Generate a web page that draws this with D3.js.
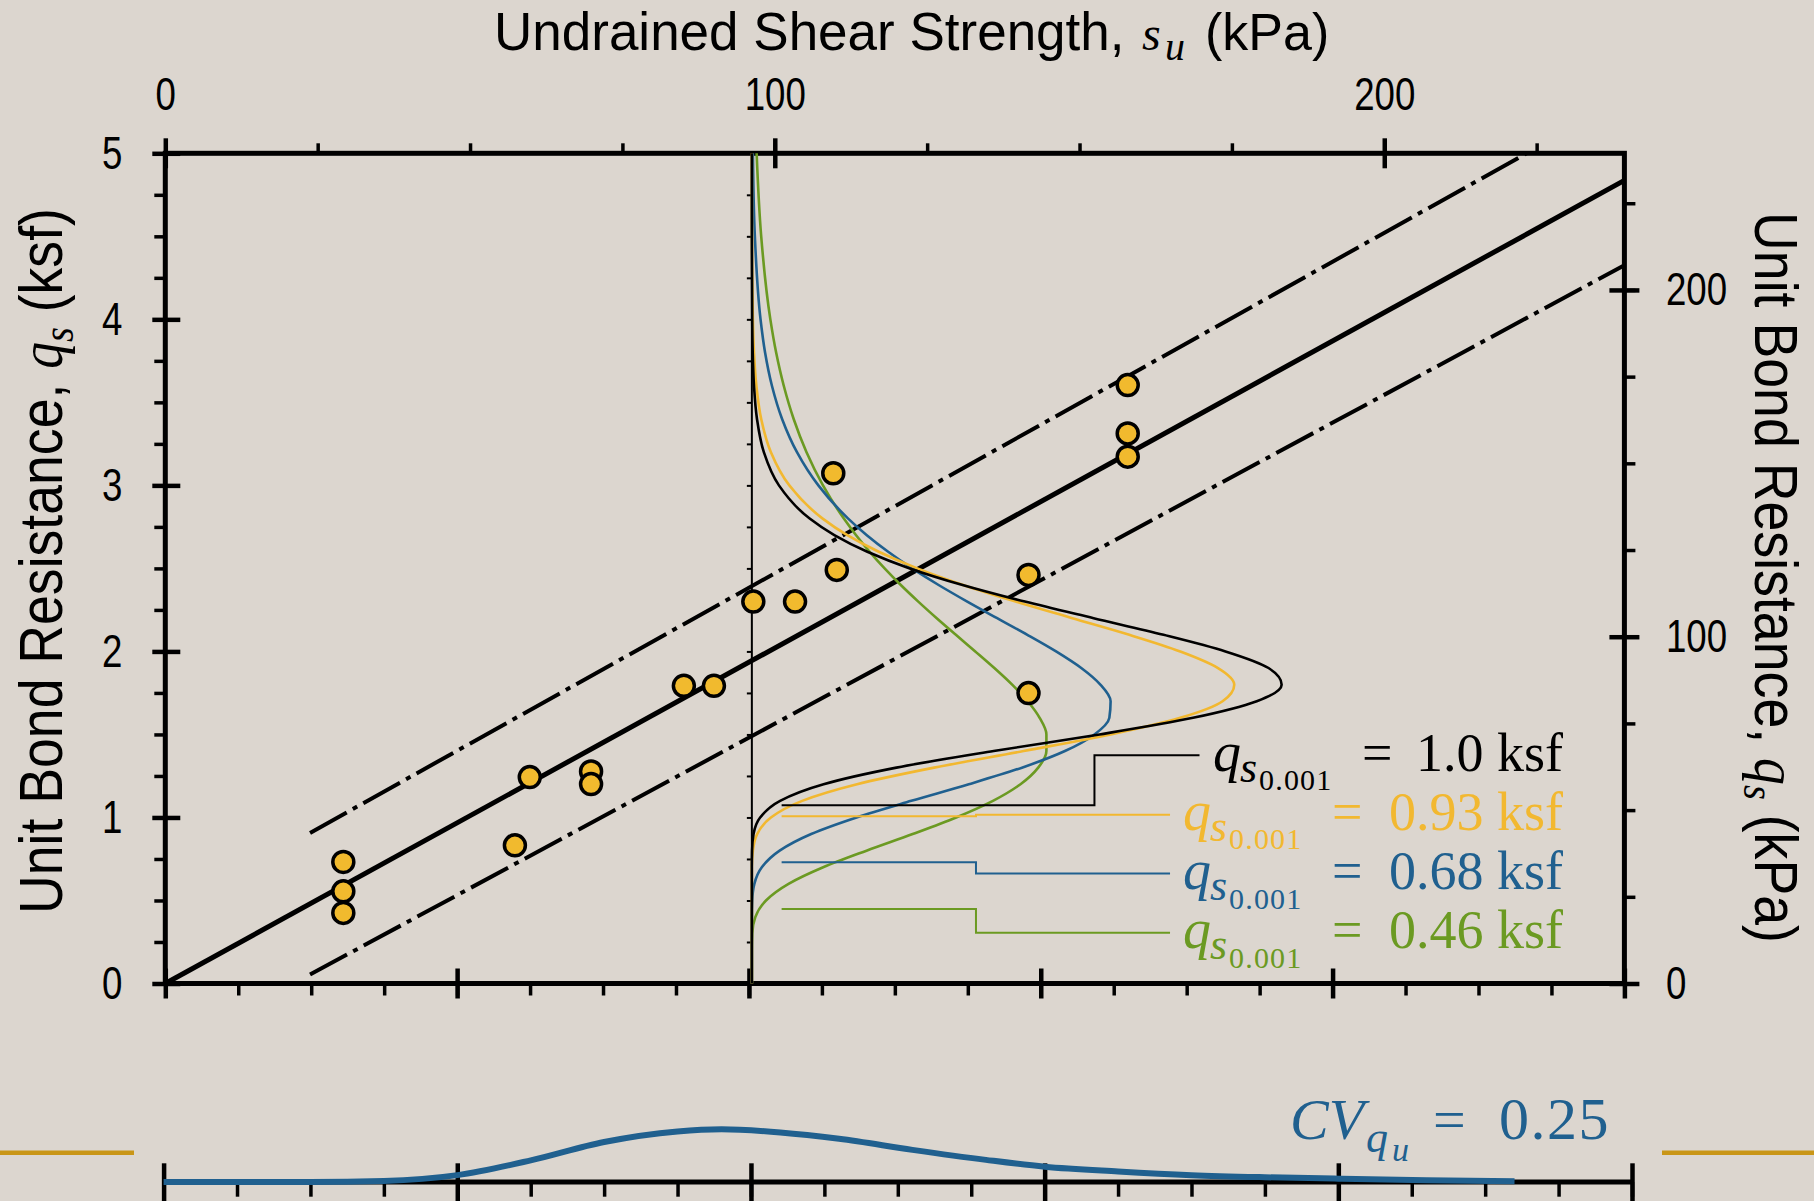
<!DOCTYPE html>
<html>
<head>
<meta charset="utf-8">
<script src="https://cdn.jsdelivr.net/npm/d3@7"></script>
<style>
  html, body { margin: 0; padding: 0; background: #dcd6cf; }
  svg { display: block; }
  text { white-space: pre; }
</style>
</head>
<body>
<div id="chart"></div>
<script>
// ---- data (ksf unless noted) ----
var suPoints = [0.610, 0.610, 0.610, 1.198, 1.249, 1.459, 1.459, 1.777, 1.880, 2.015, 2.158, 2.301, 2.289, 2.958, 2.958, 3.298, 3.298, 3.298];
var qsPoints = [0.732, 0.555, 0.425, 0.832, 1.243, 1.277, 1.201, 1.793, 1.793, 2.300, 2.300, 2.491, 3.073, 2.461, 1.749, 3.604, 3.313, 3.173];

var trendSu = [0, 5],         trendQs = [0, 4.837];
var upperSu = [0.496, 4.665], upperQs = [0.907, 5.0];
var lowerSu = [0.496, 5.0],   lowerQs = [0.054, 4.326];

// probability density of q_s, drawn sideways from s_u = 2 ksf
var qsGrid = [0, 0.2, 0.3, 0.4, 0.5, 0.6, 0.7, 0.8, 0.9, 1.0, 1.1, 1.2, 1.3, 1.4, 1.5, 1.6, 1.7, 1.8, 1.9, 2.0,
              2.1, 2.2, 2.3, 2.4, 2.5, 2.6, 2.7, 2.8, 3.0, 3.2, 3.4, 3.6, 3.8, 4.0, 4.5, 5.0];
var pdfBlack  = [0, 0, 0, 0, 0, 0, 0, 0.0004, 0.0033, 0.0163, 0.0556, 0.1412, 0.2846, 0.4760, 0.6844, 0.8684, 0.9939, 1.0429, 1.0171, 0.9323,
                 0.8104, 0.6728, 0.5374, 0.4148, 0.3109, 0.2273, 0.1623, 0.1138, 0.0533, 0.0236, 0.0101, 0.0042, 0.0017, 0.0007, 0, 0];
var pdfYellow = [0, 0, 0, 0, 0, 0, 0, 0.0020, 0.0104, 0.0375, 0.0991, 0.2070, 0.3587, 0.5349, 0.7063, 0.8433, 0.9266, 0.9496, 0.9176, 0.8434,
                 0.7430, 0.6309, 0.5194, 0.4160, 0.3256, 0.2497, 0.1879, 0.1394, 0.0738, 0.0375, 0.0184, 0.0089, 0.0042, 0.0020, 0.0003, 0];
var pdfBlue   = [0, 0, 0, 0, 0.0007, 0.0049, 0.0196, 0.0547, 0.1168, 0.2061, 0.3139, 0.4270, 0.5317, 0.6163, 0.6744, 0.7037, 0.7062, 0.6860, 0.6484, 0.5988,
                 0.5423, 0.4829, 0.4240, 0.3676, 0.3155, 0.2683, 0.2263, 0.1896, 0.1309, 0.0888, 0.0595, 0.0395, 0.0260, 0.0171, 0.0059, 0.0020];
var pdfGreen  = [0, 0, 0.0007, 0.0068, 0.0278, 0.0722, 0.1404, 0.2257, 0.3165, 0.4022, 0.4746, 0.5288, 0.5637, 0.5798, 0.5798, 0.5665, 0.5430, 0.5124, 0.4773, 0.4398,
                 0.4016, 0.3639, 0.3276, 0.2932, 0.2613, 0.2320, 0.2052, 0.1811, 0.1400, 0.1076, 0.0823, 0.0628, 0.0478, 0.0364, 0.0184, 0.0094];

// lower-tail labels
var tailValues = ["1.0", "0.93", "0.68", "0.46"];
var tailColors = ["#000000", "#f2b830", "#20608f", "#6b9a22"];
// leader lines (s_u, q_s)
var leaders = [
  [[2.112, 1.073], [3.184, 1.073], [3.184, 1.374], [3.544, 1.374]],
  [[2.112, 1.007], [2.778, 1.007], [2.778, 1.017], [3.443, 1.017]],
  [[2.112, 0.730], [2.778, 0.730], [2.778, 0.662], [3.443, 0.662]],
  [[2.112, 0.449], [2.778, 0.449], [2.778, 0.305], [3.443, 0.305]]
];

// s_u distribution, bottom strip (relative density)
var suStrip  = [0, 0.5, 0.75, 1.0, 1.25, 1.5, 1.75, 1.9, 2.1, 2.3, 2.55, 2.8, 3.0, 3.25, 3.5, 3.75, 4.0, 4.3, 4.6];
var pdfStrip = [0, 0, 0.02, 0.13, 0.41, 0.76, 0.96, 1.0, 0.94, 0.82, 0.61, 0.42, 0.29, 0.2, 0.13, 0.09, 0.063, 0.034, 0.013];

var topTicks = [0, 100, 200];      // kPa
var rightTicks = [0, 100, 200];    // kPa
var leftTicks = [0, 1, 2, 3, 4, 5]; // ksf

// ---- setup ----
var W = 1814, H = 1201;
var KPA = 47.88;
var SANS = '"Liberation Sans", Arial, sans-serif';
var SERIF = '"Liberation Serif", "Times New Roman", serif';
var BLUE = "#20608f";

var x = d3.scaleLinear().domain([0, 5]).range([165.3, 1624.4]);
var y = d3.scaleLinear().domain([0, 5]).range([983.5, 153.3]);
var xKpa = d3.scaleLinear().domain([0, 5 * KPA]).range(x.range());
var yKpa = d3.scaleLinear().domain([0, 5 * KPA]).range(y.range());
var pdfBase = 2.01;
var pdfX = d3.scaleLinear().domain([0, 1]).range([x(pdfBase), x(pdfBase) + 508]);
var xb = d3.scaleLinear().domain([0, 5]).range([163.6, 1632]);
var yb = d3.scaleLinear().domain([0, 1]).range([1182, 1129.3]);

var svg = d3.select("#chart").append("svg")
  .attr("width", W).attr("height", H);

svg.append("rect").attr("width", W).attr("height", H).attr("fill", "#dcd6cf");

function narrow(sel, k) {
  sel.each(function() {
    var t = d3.select(this);
    var tx = +t.attr("x") || 0;
    t.attr("transform", "translate(" + tx + ",0) scale(" + k + ",1) translate(" + (-tx) + ",0)");
  });
}

// tick marks only; inner > 0 makes them cross the axis line
function tickMarks(axisFn, scale, values, outer, inner, pos, width) {
  var g = svg.append("g").attr("transform", pos)
    .call(axisFn(scale).tickValues(values).tickSize(outer).tickSizeOuter(0).tickFormat(""));
  g.select(".domain").remove();
  var lines = g.selectAll(".tick line").attr("stroke", "#000").attr("stroke-width", width);
  if (inner) {
    if (axisFn === d3.axisLeft) lines.attr("x1", inner);
    if (axisFn === d3.axisRight) lines.attr("x1", -inner);
    if (axisFn === d3.axisTop) lines.attr("y1", inner);
    if (axisFn === d3.axisBottom) lines.attr("y1", -inner);
  }
  return g;
}

function tickLabels(axisFn, scale, values, pad, pos) {
  var g = svg.append("g").attr("transform", pos)
    .call(axisFn(scale).tickValues(values).tickSize(0).tickPadding(pad).tickFormat(d3.format("d")));
  g.select(".domain").remove();
  g.selectAll("text")
    .attr("font-family", SANS).attr("font-size", 47).attr("fill", "#000")
    .call(narrow, 0.78);
  return g;
}

var minorKsf = d3.range(0, 21).map(function(i) { return i * 0.25; });
var minorKpa = d3.range(0, 10).map(function(i) { return i * 25; });

// ---- main plot axes ----
tickMarks(d3.axisLeft, y, minorKsf, 11, 0, "translate(" + x(0) + ",0)", 3.5);
tickMarks(d3.axisLeft, y, leftTicks, 13, 15, "translate(" + x(0) + ",0)", 4.5);
tickMarks(d3.axisBottom, x, minorKsf, 12, 0, "translate(0," + y(0) + ")", 3.5);
tickMarks(d3.axisBottom, x, leftTicks, 15, 15, "translate(0," + y(0) + ")", 4.5);
tickMarks(d3.axisTop, xKpa, minorKpa, 10, 0, "translate(0," + y(5) + ")", 3.5);
tickMarks(d3.axisTop, xKpa, topTicks, 15, 15, "translate(0," + y(5) + ")", 4.5);
tickMarks(d3.axisRight, yKpa, minorKpa, 11, 0, "translate(" + x(5) + ",0)", 3.5);
tickMarks(d3.axisRight, yKpa, rightTicks, 15, 15, "translate(" + x(5) + ",0)", 4.5);

svg.append("rect")
  .attr("x", x(0)).attr("y", y(5))
  .attr("width", x(5) - x(0)).attr("height", y(0) - y(5))
  .attr("fill", "none").attr("stroke", "#000").attr("stroke-width", 5);

tickLabels(d3.axisLeft, y, leftTicks, 43, "translate(" + x(0) + ",0)");
tickLabels(d3.axisTop, xKpa, topTicks, 43, "translate(0," + y(5) + ")");
tickLabels(d3.axisRight, yKpa, rightTicks, 41.6, "translate(" + x(5) + ",0)");

// inner axis for the q_s densities
svg.append("line")
  .attr("x1", x(pdfBase)).attr("x2", x(pdfBase))
  .attr("y1", y(0)).attr("y2", y(5))
  .attr("stroke", "#000").attr("stroke-width", 2);
tickMarks(d3.axisLeft, y, minorKsf.slice(1, 20), 5, 0, "translate(" + x(pdfBase) + ",0)", 2);

// ---- trend and bounds ----
var line = d3.line().x(function(d) { return x(d[0]); }).y(function(d) { return y(d[1]); });

svg.append("path")
  .attr("d", line(d3.zip(trendSu, trendQs)))
  .attr("fill", "none").attr("stroke", "#000").attr("stroke-width", 5);

[[upperSu, upperQs], [lowerSu, lowerQs]].forEach(function(b) {
  svg.append("path")
    .attr("d", line(d3.zip(b[0], b[1])))
    .attr("fill", "none").attr("stroke", "#000").attr("stroke-width", 4)
    .attr("stroke-dasharray", "42,7,5,7");
});

// ---- density curves ----
var pdfLine = d3.line()
  .x(function(d) { return pdfX(d[1]); })
  .y(function(d) { return y(d[0]); })
  .curve(d3.curveMonotoneY);

[pdfGreen, pdfBlue, pdfYellow, pdfBlack].forEach(function(arr, i) {
  var col = tailColors[3 - i];
  svg.append("path")
    .attr("d", pdfLine(d3.zip(qsGrid, arr)))
    .attr("fill", "none").attr("stroke", col).attr("stroke-width", 2.6);
});

leaders.forEach(function(pts, i) {
  svg.append("path")
    .attr("d", line(pts))
    .attr("fill", "none").attr("stroke", tailColors[i]).attr("stroke-width", 2);
});

// ---- points ----
svg.append("g").selectAll("circle")
  .data(d3.zip(suPoints, qsPoints))
  .join("circle")
  .attr("cx", function(d) { return x(d[0]); })
  .attr("cy", function(d) { return y(d[1]); })
  .attr("r", 10.5)
  .attr("fill", "#f1ba2e").attr("stroke", "#000").attr("stroke-width", 3.5);

// ---- tail labels ----
var qX = [1213, 1183, 1183, 1183];
var eqX = [1362, 1332, 1332, 1332];
var baseY = [770.7, 830, 889.3, 948.3];

tailValues.forEach(function(v, i) {
  var g = svg.append("g").attr("fill", tailColors[i]).attr("font-family", SERIF);
  g.append("text").attr("x", qX[i]).attr("y", baseY[i])
    .attr("font-size", 56).attr("font-style", "italic").text("q");
  g.append("text").attr("x", qX[i] + 27).attr("y", baseY[i] + 11)
    .attr("font-size", 44).attr("font-style", "italic").text("s");
  g.append("text").attr("x", qX[i] + 46).attr("y", baseY[i] + 19.3)
    .attr("font-size", 30).attr("letter-spacing", 1.2).text("0.001");
  g.append("text").attr("x", eqX[i]).attr("y", baseY[i])
    .attr("font-size", 54).text("=");
  g.append("text").attr("x", 1563).attr("y", baseY[i])
    .attr("text-anchor", "end").attr("font-size", 54).text(v + " ksf");
});

// ---- bottom strip: s_u distribution ----
svg.append("line")
  .attr("x1", xb(0)).attr("x2", xb(5)).attr("y1", yb(0)).attr("y2", yb(0))
  .attr("stroke", "#000").attr("stroke-width", 5);
tickMarks(d3.axisBottom, xb, minorKsf, 14.7, 0, "translate(0," + yb(0) + ")", 3.5);
tickMarks(d3.axisBottom, xb, leftTicks, 22, 18.7, "translate(0," + yb(0) + ")", 4.5);

svg.append("path")
  .attr("d", d3.line().x(function(d) { return xb(d[0]); }).y(function(d) { return yb(d[1]); })
    .curve(d3.curveMonotoneX)(d3.zip(suStrip, pdfStrip)))
  .attr("fill", "none").attr("stroke", BLUE).attr("stroke-width", 6);

var gold = "#c99617";
svg.append("line").attr("x1", 0).attr("x2", 134).attr("y1", 1152.7).attr("y2", 1152.7)
  .attr("stroke", gold).attr("stroke-width", 4.5);
svg.append("line").attr("x1", 1662).attr("x2", W).attr("y1", 1152.7).attr("y2", 1152.7)
  .attr("stroke", gold).attr("stroke-width", 4.5);

var cv = svg.append("g").attr("fill", BLUE).attr("font-family", SERIF);
cv.append("text").attr("x", 1290).attr("y", 1139).attr("font-size", 58).attr("font-style", "italic").text("CV");
cv.append("text").attr("x", 1366).attr("y", 1152).attr("font-size", 44).attr("font-style", "italic").text("q");
cv.append("text").attr("x", 1392).attr("y", 1161).attr("font-size", 34).attr("font-style", "italic").text("u");
cv.append("text").attr("x", 1433).attr("y", 1139).attr("font-size", 58).text("=");
cv.append("text").attr("x", 1610).attr("y", 1139).attr("text-anchor", "end")
  .attr("font-size", 60).attr("letter-spacing", 1.5).text("0.25");

// ---- titles ----
svg.append("text").attr("x", 494).attr("y", 50)
  .attr("font-family", SANS).attr("font-size", 53).text("Undrained Shear Strength,");
svg.append("text").attr("x", 1142).attr("y", 50)
  .attr("font-family", SERIF).attr("font-style", "italic").attr("font-size", 48).text("s");
svg.append("text").attr("x", 1165).attr("y", 60)
  .attr("font-family", SERIF).attr("font-style", "italic").attr("font-size", 40).text("u");
svg.append("text").attr("x", 1205).attr("y", 50)
  .attr("font-family", SANS).attr("font-size", 52).text("(kPa)");

function sideTitle(tx, ty, rot, unit, target) {
  var t = svg.append("text")
    .attr("font-family", SANS).attr("font-size", 62).attr("text-anchor", "middle");
  t.append("tspan").text("Unit Bond Resistance, ");
  t.append("tspan").attr("font-family", SERIF).attr("font-style", "italic").attr("font-size", 62).text("q");
  t.append("tspan").attr("font-family", SERIF).attr("font-style", "italic").attr("font-size", 44).attr("dy", 11).text("s");
  t.append("tspan").attr("dy", -11).text(" (" + unit + ")");
  var len = t.node().getComputedTextLength();
  t.attr("transform", "translate(" + tx + "," + ty + ") rotate(" + rot + ") scale(" + (target / len) + ",1)");
}
sideTitle(62, 561, -90, "ksf", 706);
sideTitle(1755, 577.5, 90, "kPa", 731);
</script>
</body>
</html>
